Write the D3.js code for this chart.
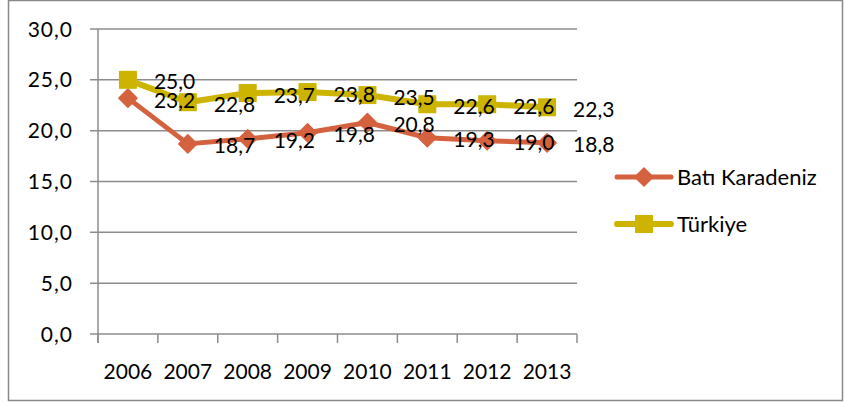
<!DOCTYPE html>
<html>
<head>
<meta charset="utf-8">
<script src="https://cdn.jsdelivr.net/npm/d3@7/dist/d3.min.js"></script>
<style>
  body { margin: 0; background: #fff; }
  text { font-family: Lato, "Open Sans", sans-serif; fill: #000; }
</style>
</head>
<body>
<div id="chart"></div>
<script>
const years = ['2006', '2007', '2008', '2009', '2010', '2011', '2012', '2013'];
const batiKaradeniz = [23.2, 18.7, 19.2, 19.8, 20.8, 19.3, 19.0, 18.8];
const turkiye = [25.0, 22.8, 23.7, 23.8, 23.5, 22.6, 22.6, 22.3];
const yTicks = [0, 5, 10, 15, 20, 25, 30];

const series = [
  { name: 'Batı Karadeniz', values: batiKaradeniz, color: '#d5623f', marker: 'diamond', lw: 5 },
  { name: 'Türkiye', values: turkiye, color: '#ccb400', marker: 'square', lw: 6 }
];

const W = 845, H = 403;
const plot = { left: 98, right: 577, top: 29, bottom: 334 };

const svg = d3.select('#chart').append('svg')
  .attr('width', W).attr('height', H);

// outer frame
svg.append('rect')
  .attr('x', 8.5).attr('y', 0.5).attr('width', 834).attr('height', 400)
  .attr('fill', 'none').attr('stroke', '#898989').attr('stroke-width', 1.5);

const x = d3.scaleBand().domain(years).range([plot.left, plot.right]).paddingInner(0).paddingOuter(0);
const y = d3.scaleLinear().domain([0, 30]).range([plot.bottom, plot.top]);

const fmt = v => d3.format('.1f')(v).replace('.', ',');

// gridlines
svg.append('g')
  .selectAll('line')
  .data(yTicks)
  .join('line')
  .attr('x1', plot.left - 8).attr('x2', plot.right)
  .attr('y1', d => y(d)).attr('y2', d => y(d))
  .attr('stroke', '#8c8c8c').attr('stroke-width', 1.5);

// y axis line
svg.append('line')
  .attr('x1', plot.left).attr('x2', plot.left)
  .attr('y1', plot.top).attr('y2', plot.bottom + 9)
  .attr('stroke', '#8c8c8c').attr('stroke-width', 1.5);

// y labels
svg.append('g')
  .selectAll('text')
  .data(yTicks)
  .join('text')
  .attr('x', 73).attr('y', d => y(d))
  .attr('dy', '0.36em')
  .attr('text-anchor', 'end')
  .attr('font-size', 21)
  .attr('letter-spacing', 1)
  .text(fmt);

// x category boundary ticks
const bounds = years.map(d => x(d)).concat([plot.right]);
svg.append('g')
  .selectAll('line')
  .data(bounds)
  .join('line')
  .attr('x1', d => d).attr('x2', d => d)
  .attr('y1', plot.bottom).attr('y2', plot.bottom + 9)
  .attr('stroke', '#8c8c8c').attr('stroke-width', 1.5);

// x labels
svg.append('g')
  .selectAll('text')
  .data(years)
  .join('text')
  .attr('x', d => x(d) + x.bandwidth() / 2)
  .attr('y', 371)
  .attr('dy', '0.36em')
  .attr('text-anchor', 'middle')
  .attr('font-size', 21)
  .text(d => d);

const cx = (d, i) => x(years[i]) + x.bandwidth() / 2;

function drawMarker(g, type, color, px, py) {
  if (type === 'square') {
    g.append('rect')
      .attr('x', px - 9).attr('y', py - 9).attr('width', 18).attr('height', 18)
      .attr('fill', color);
  } else {
    const r = 9;
    g.append('path')
      .attr('d', `M${px},${py - r}L${px + r},${py}L${px},${py + r}L${px - r},${py}Z`)
      .attr('fill', color).attr('stroke', color).attr('stroke-width', 1.5)
      .attr('stroke-linejoin', 'round');
  }
}

const line = d3.line().x(cx).y(d => y(d));

series.forEach(s => {
  const g = svg.append('g');
  g.append('path')
    .attr('d', line(s.values))
    .attr('fill', 'none')
    .attr('stroke', s.color)
    .attr('stroke-width', s.lw)
    .attr('stroke-linejoin', 'round')
    .attr('stroke-linecap', 'round');
  s.values.forEach((v, i) => drawMarker(g, s.marker, s.color, cx(v, i), y(v)));
});

// data labels on top
series.forEach(s => {
  svg.append('g')
    .selectAll('text')
    .data(s.values)
    .join('text')
    .attr('x', (d, i) => cx(d, i) + 26)
    .attr('y', d => y(d) + 2)
    .attr('dy', '0.36em')
    .attr('font-size', 21)
    .text(fmt);
});

// legend
const legend = svg.append('g');
const legendY = [177, 224];
series.forEach((s, i) => {
  const ly = legendY[i];
  legend.append('line')
    .attr('x1', 617).attr('x2', 671).attr('y1', ly).attr('y2', ly)
    .attr('stroke', s.color).attr('stroke-width', s.lw)
    .attr('stroke-linecap', 'round');
  drawMarker(legend, s.marker, s.color, 644, ly);
  legend.append('text')
    .attr('x', 677).attr('y', ly)
    .attr('dy', '0.36em')
    .attr('font-size', 22)
    .text(s.name);
});
</script>
</body>
</html>
